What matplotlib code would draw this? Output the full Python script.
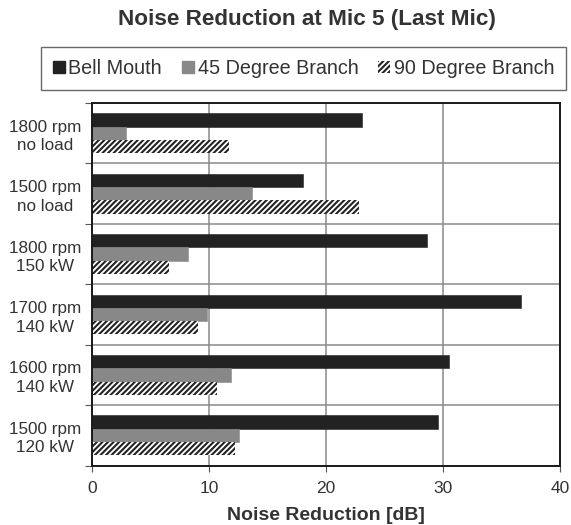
import matplotlib
matplotlib.use("Agg")
import matplotlib.pyplot as plt
import numpy as np
from matplotlib.patches import Patch

plt.rcParams['font.family'] = ['Liberation Sans', 'DejaVu Sans']
plt.rcParams['hatch.linewidth'] = 1.5

categories = ["1800 rpm\nno load", "1500 rpm\nno load", "1800 rpm\n150 kW",
              "1700 rpm\n140 kW", "1600 rpm\n140 kW", "1500 rpm\n120 kW"]
bell_mouth = [23.1, 18.0, 28.6, 36.7, 30.5, 29.6]
deg45 = [2.9, 13.7, 8.2, 9.8, 11.9, 12.6]
deg90 = [11.7, 22.8, 6.6, 9.1, 10.7, 12.2]
series_names = ["Bell Mouth", "45 Degree Branch", "90 Degree Branch"]
xticks = [0, 10, 20, 30, 40]

txt = "#333333"
fig = plt.figure(figsize=(5.71, 5.25), dpi=100)
ax = fig.add_axes([92/571, 1-465.5/525, (560-92)/571, (465.5-103)/525])

n = len(categories)
centers = np.arange(n)[::-1] + 0.5  # top category at top
h = 0.22
ax.barh(centers + h, bell_mouth, height=h, color="#222222", edgecolor="#222222", linewidth=0.4, zorder=3)
ax.barh(centers, deg45, height=h, color="#888888", edgecolor="#888888", linewidth=0.4, zorder=3)
ax.barh(centers - h, deg90, height=h, color="white", edgecolor="#222222", hatch="//////", linewidth=0, zorder=3)

ax.set_xlim(0, 40)
ax.set_ylim(0, n)
ax.set_xticks(xticks)
ax.set_xticklabels([str(v) for v in xticks], fontsize=12.5, color=txt)
ax.set_yticks(np.arange(n + 1))
ax.set_yticklabels([])
ax.set_yticks(centers, minor=True)
ax.set_yticklabels(categories, minor=True, fontsize=12.3, color=txt, ha="center",
                   linespacing=1.3)
ax.tick_params(axis="y", which="minor", length=0, pad=34)
ax.tick_params(axis="y", which="major", length=5, color="#555555", direction="out")
ax.tick_params(axis="x", length=4, color="#555555", pad=7)
ax.grid(True, axis="both", which="major", color="#8a8a8a", linewidth=1.1, zorder=0)
for s in ax.spines.values():
    s.set_color("#1a1a1a")
    s.set_linewidth(1.4)
    s.set_zorder(4)

ax.set_xlabel("Noise Reduction [dB]", fontsize=14, fontweight="bold", color=txt, labelpad=8)
fig.text(307/571, 1-20/525, "Noise Reduction at Mic 5 (Last Mic)", fontsize=16.2,
         fontweight="bold", color=txt, ha="center", va="center")

handles = [Patch(facecolor="#222222", edgecolor="#222222"),
           Patch(facecolor="#888888", edgecolor="#888888"),
           Patch(facecolor="white", edgecolor="#222222", hatch="//////", linewidth=0)]
leg = fig.legend(handles, series_names, loc="center", bbox_to_anchor=(303.5/571, 1-68.5/525),
                 ncol=3, fontsize=14.2, frameon=True, fancybox=False,
                 handlelength=0.6, handleheight=0.6, handletextpad=0.2,
                 columnspacing=1.0, borderpad=0.6, borderaxespad=0, labelcolor=txt)
leg.get_frame().set_edgecolor("#444444")
leg.get_frame().set_linewidth(1.0)

fig.savefig("out.png", dpi=100)
